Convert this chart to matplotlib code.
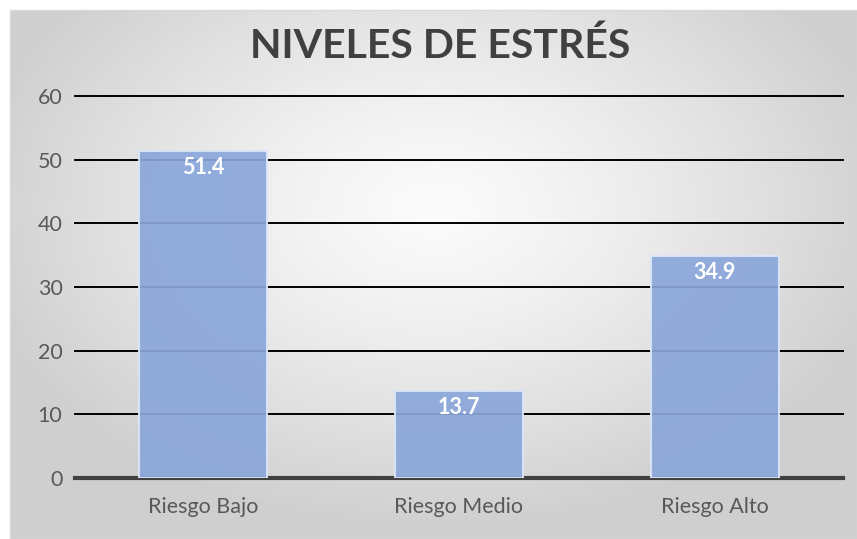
import numpy as np
import matplotlib.pyplot as plt

# datos del grafico
categorias = ["Riesgo Bajo", "Riesgo Medio", "Riesgo Alto"]
valores = [51.4, 13.7, 34.9]
ticks_y = [0, 10, 20, 30, 40, 50, 60]
titulo = "NIVELES DE ESTRÉS"

plt.rcParams['font.family'] = ['Lato', 'DejaVu Sans']

W, H = 857, 539
fig = plt.figure(figsize=(W / 100, H / 100), dpi=100)
fig.patch.set_facecolor('white')

# fondo con degradado radial (area del grafico)
bg = fig.add_axes([10 / W, 0, (W - 10) / W, (H - 10) / H])
gx, gy = np.meshgrid(np.linspace(-1, 1, 400), np.linspace(-1, 1, 260))
r = np.sqrt((gx / 1.1) ** 2 + ((gy + 0.25) / 1.2) ** 2)
r = np.clip(r, 0, 1)
grad = 0.985 - 0.17 * r ** 1.3
bg.imshow(np.dstack([grad, grad, grad]), aspect='auto', extent=[0, 1, 0, 1])
bg.set_axis_off()
bg.add_patch(plt.Rectangle((0, 0), 1, 1, transform=bg.transAxes, fill=False,
                           edgecolor='#d9d9d9', linewidth=1, clip_on=False))

ax = fig.add_axes([75 / W, (H - 478) / H, 768 / W, (478 - 96) / H])
ax.patch.set_alpha(0)

x = np.arange(len(categorias))
ax.set_xlim(-0.5, len(categorias) - 0.5)
ax.set_ylim(0, 60)
ax.set_yticks(ticks_y)
ax.set_xticks(x)
ax.set_xticklabels(categorias)

ax.yaxis.grid(True, color='black', linewidth=1.4)
for gl in ax.get_ygridlines():
    gl.set_clip_on(False)
ax.set_axisbelow(True)
ax.axhline(0, color='#404040', linewidth=3, zorder=1, clip_on=False)

bars = ax.bar(x, valores, width=0.5, color='#8aa6da', alpha=0.92,
              edgecolor='#dce6f5', linewidth=1.5, zorder=2)

for b, v in zip(bars, valores):
    ax.annotate(f"{v}", (b.get_x() + b.get_width() / 2, v), xytext=(0, -12),
                textcoords='offset points', ha='center', va='center',
                color='white', fontsize=15.5, fontweight='bold', zorder=3)

for s in ax.spines.values():
    s.set_visible(False)
ax.tick_params(axis='both', length=0, labelsize=15.5, labelcolor='#595959')
ax.tick_params(axis='y', pad=9)
ax.tick_params(axis='x', pad=14)

fig.text(440 / W, 1 - 46 / H, titulo, ha='center', va='center',
         fontsize=29.5, fontweight='bold', color='#404040')

fig.savefig('out.png', dpi=100)
